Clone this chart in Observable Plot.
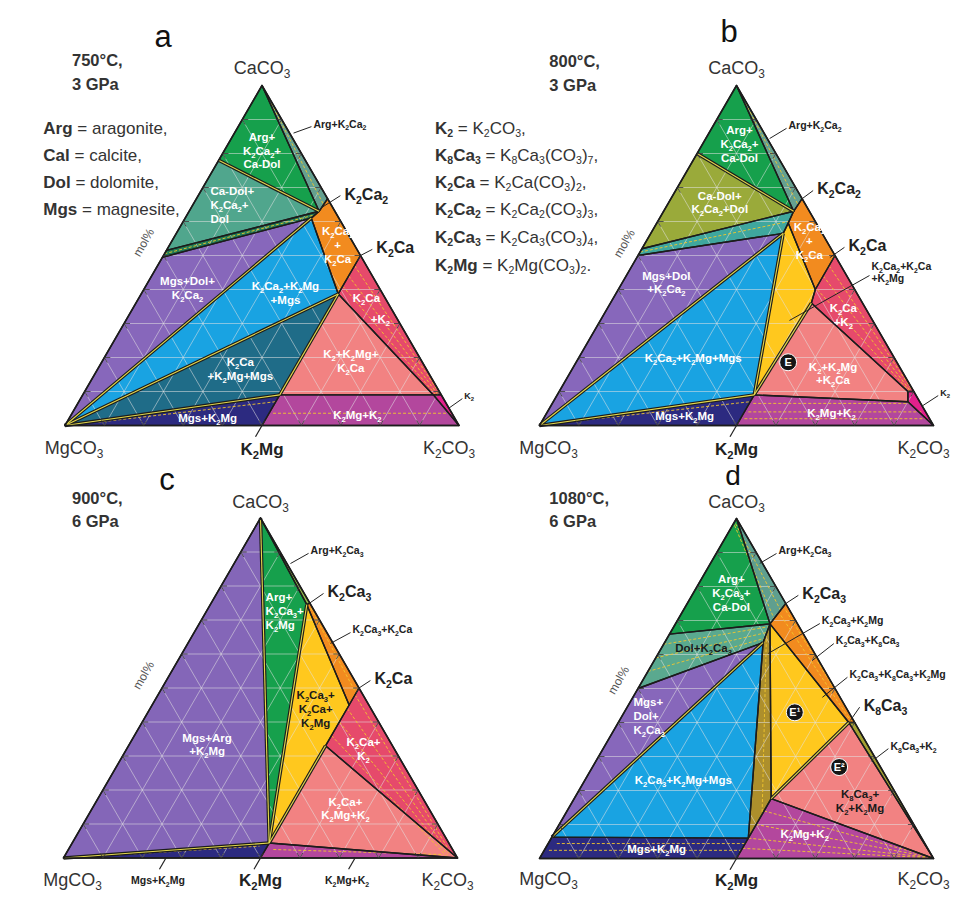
<!DOCTYPE html>
<html><head><meta charset="utf-8">
<script src="https://cdn.jsdelivr.net/npm/d3@7"></script>
<script src="https://cdn.jsdelivr.net/npm/@observablehq/plot@0.6"></script>
<style>
body{margin:0;background:#fff;font-family:"Liberation Sans",Arial,Helvetica,sans-serif;}
#fig{position:relative;width:953px;height:899px;overflow:hidden;background:#fff}
.t{position:absolute;white-space:nowrap;line-height:1;color:#333}
.t sub{font-size:62%;vertical-align:baseline;position:relative;top:0.28em}
</style></head><body><div id="fig"></div><script>
// ---------- DATA (compositions in mol%: [name, K2CO3, CaCO3]; MgCO3 = remainder) ----------
const gridSteps = [10,20,30,40,50,60,70,80,90];
const cornerNames = ["CaCO₃","MgCO₃","K₂CO₃","K₂Mg"];

// Panel a: 750 °C, 3 GPa
const aVertices = [["Cc",0,100],["L",0,0],["R",100,0],["M",50,0],["CaDol",0,78],["DolT",0,51.5],["Dol",0,49.5],
  ["J",33,63],["K2Ca2",33.3,66.7],["J2",32,61],["K2Ca",50,50],["Kc",50,38.7],["Q",50,9],["K2i",89,9],["K2e",91,9]];
const aRegions = [["Arg+K₂Ca₂+Ca-Dol","Cc CaDol J"],["Arg+K₂Ca₂","Cc J K2Ca2"],["Ca-Dol+K₂Ca₂+Dol","CaDol DolT J"],
  ["Dol+K₂Ca₂","DolT J J2 Dol"],["Mgs+Dol+K₂Ca₂","L Dol J2"],["K₂Ca₂+K₂Mg+Mgs","L J2 Kc"],["K₂Ca+K₂Mg+Mgs","L Kc Q"],
  ["Mgs+K₂Mg","L Q M"],["K₂Ca₂+K₂Ca","J K2Ca2 K2Ca Kc J2"],["K₂Ca+K₂","K2Ca K2e K2i Kc"],["K₂+K₂Mg+K₂Ca","Kc K2i Q"],
  ["K₂Mg+K₂","Q K2i R M"],["K₂","K2i K2e R"]];
const aYellow = ["CaDol J","L J2","L Kc","Kc Q","L Q"];
const aTies = [[0,100,33.1,65],[0,50.5,32.5,62],[50,47,90.5,9.3],[50,44,90,9.2],[50,41,89.5,9.1],[51,3.6,96,3.6],[8,1,50,7]];

// Panel b: 800 °C, 3 GPa
const bVertices = [["Cc",0,100],["L",0,0],["R",100,0],["M",50,0],["CaDol",0,80],["DolT",0,52],["Dol",0,50],
  ["J",33,63],["K2Ca2",33.3,66.7],["Jy",33.4,59.5],["J2",33.6,56.5],["K2Ca",50,50],["Kc",50,40],["S",51,36],
  ["Q",50,9],["K2i",88.5,10],["K2e",90,10],["K2j",90,7]];
const bRegions = [["Arg+K₂Ca₂+Ca-Dol","Cc CaDol J"],["Arg+K₂Ca₂","Cc J K2Ca2"],["Ca-Dol+K₂Ca₂+Dol","CaDol DolT J"],
  ["Dol+K₂Ca₂","DolT J J2 Dol"],["Mgs+Dol+K₂Ca₂","L Dol J2"],["K₂Ca₂+K₂Mg+Mgs","L J2 Q"],["Mgs+K₂Mg","L Q M"],
  ["K₂Ca₂+K₂Ca","J K2Ca2 K2Ca Kc Jy"],["K₂Ca₂+K₂Ca+K₂Mg","Jy Kc S Q J2"],["K₂Ca+K₂","K2Ca K2e K2i S Kc"],
  ["K₂+K₂Mg+K₂Ca","S K2i K2j Q"],["K₂Mg+K₂","Q K2j R M"],["K₂","K2i K2e R K2j"]];
const bYellow = ["CaDol J","L J2","J2 Q","L Q","S Q"];
const bTies = [[0,100,33.1,65],[0,51,33.3,60],[50,47,89.5,10.3],[50,44,89,10.2],[50.5,40,88.8,10.1],
  [51,6.5,91,6.5],[51,4,95,4],[51,2,97,2],[10,1.5,50,7]];

// Panel c: 900 °C, 6 GPa
const cVertices = [["Cc",0,100],["L",0,0],["R",100,0],["M",50,0],["K2Ca3",25,75],["K3i",24.5,74.5],
  ["K2Ca",50,50],["Ka",50,45],["Kc",50,33],["Q",50,4.4]];
const cRegions = [["Mgs+Arg+K₂Mg","Cc L Q"],["Mgs+K₂Mg","L M Q"],["Arg+K₂Ca₃+K₂Mg","Cc K3i Q"],["Arg+K₂Ca₃","Cc K2Ca3 K3i"],
  ["K₂Ca₃+K₂Ca","K2Ca3 K2Ca Ka K3i"],["K₂Ca₃+K₂Ca+K₂Mg","K3i Ka Kc Q"],["K₂Ca+K₂","K2Ca R Kc Ka"],
  ["K₂Ca+K₂Mg+K₂","Kc R Q"],["K₂Mg+K₂","Q R M"]];
const cYellow = ["Cc Q","K3i Q","Kc Q","L Q"];
const cTies = [[26,73.5,49.5,49],[50,48,97,2],[50,44,97,1.5],[50,40,97,1],[50,36,97,0.5],[52,2.5,96,1],[5,0.3,48,3.5]];

// Panel d: 1080 °C, 6 GPa
const dVertices = [["Cc",0,100],["L",0,0],["R",100,0],["M",50,0],["CaDol",0,66],["Dol",0,50],["Mgs6",0,6.3],
  ["J",24,69],["J2",25,63.5],["K2Ca3",25,75],["K8i",58.5,40],["K8e",60,40],["Q",50,17.6],["Qb",50,6]];
const dRegions = [["Arg+K₂Ca₃+Ca-Dol","Cc CaDol J"],["Arg+K₂Ca₃","Cc J K2Ca3"],["Dol+K₂Ca₃","CaDol J J2 Dol"],
  ["Mgs+Dol+K₂Ca₃","Mgs6 Dol J2"],["K₂Ca₃+K₂Mg+Mgs","Mgs6 J2 Qb"],["Mgs+K₂Mg","L M Qb Mgs6"],
  ["K₂Ca₃+K₂Mg","J Q Qb J2"],["K₂Ca₃+K₈Ca₃","K2Ca3 K8e K8i J"],["K₂Ca₃+K₈Ca₃+K₂Mg","J K8i Q"],
  ["K₈Ca₃+K₂","K8i K8e R"],["K₈Ca₃+K₂+K₂Mg","K8i R Q"],["K₂Mg+K₂","Q R M"]];
const dYellow = ["Mgs6 J2","K8i Q"];
const dTies = [[0.5,98,24.3,70.5],[0.5,98.5,24.7,73],[0,63,24.2,68.2],[0,59,24.5,66.5],[0,55,24.8,64.8],
  [24.6,66,50,13],[26,73,59,41],[25.5,71.5,58.7,40.5],[2.2,4.4,50,4.4],[1.2,2.4,50,2.4],
  [50,14,99,0.5],[50,10,99,0.4],[50,6,99,0.3],[50,3,99,0.2]];

// ---------- ANNOTATIONS (label text, anchor composition K2CO3, CaCO3) ----------
const aNotes = [["Arg+\nK₂Ca₂+\nCa-Dol",9.5,81],["Mgs+Dol+\nK₂Ca₂",10.8,40.6],["K₂Ca₂+K₂Mg\n+Mgs",36.4,39.1],
  ["K₂Ca₂\n+\nK₂Ca",42.6,53.2],["K₂Ca",57.7,37.6],["+K₂",64.3,31.5],["K₂+K₂Mg+\nK₂Ca",63,19.1],
  ["K₂Ca\n+K₂Mg+Mgs",36.1,16.8],["Mgs+K₂Mg",35,2.4],["K₂Mg+K₂",72.6,3.2]];
const aNotesLeft = [["Ca-Dol+\nK₂Ca₂+\nDol",4.4,65]];
const aDark = [];
const aLeaders = [["Arg+K₂Ca₂",15,86,18.6,87.9,"s"],["K₂Ca₂",33,64,36.1,67.6,"b"],["K₂Ca",50,50,52.1,51.8,"b"],["K₂",94.8,5,96.9,7.9,"xs"]];
const aE = [];
const aMol = [-6.9,53.8];

const bNotes = [["Arg+\nK₂Ca₂+\nCa-Dol",9.3,82.9],["Ca-Dol+\nK₂Ca₂+Dol",12.9,65.7],["K₂Ca₂\n+\nK₂Ca",41.3,54.4],
  ["K₂Ca\n+K₂",60.8,32.6],["K₂+K₂Mg\n+K₂Ca",66.8,15.4],["Mgs+Dol\n+K₂Ca₂",11.1,42.2],["K₂Ca₂+K₂Mg+Mgs",29,20],
  ["Mgs+K₂Mg",35.4,2.9],["K₂Mg+K₂",72.2,3.8]];
const bNotesLeft = [];
const bDark = [];
const bLeaders = [["Arg+K₂Ca₂",16.2,84.4,19,87.4,"s"],["K₂Ca₂",33.3,66.7,34.9,69.1,"b"],["K₂Ca",49,49.4,51.2,52.4,"b"],
  ["K₂Ca₂+K₂Ca\n+K₂Mg",48,30.9,61.7,44.1,"s"],["K₂",94.4,5.9,96.8,8.8,"xs"]];
const bE = [["E",53.8,18.6]];
const bMol = [-5.2,53.5];

const cNotes = [["Mgs+Arg\n+K₂Mg",19.7,33.5],["K₂Ca+\nK₂",60.1,32.1],["K₂Ca+\nK₂Mg+K₂",64.2,14.7]];
const cNotesLeft = [["Arg+\nK₂Ca₃+\nK₂Mg",14.9,72.8]];
const cDark = [["K₂Ca₃+\nK₂Ca+\nK₂Mg",42,44]];
const cLeaders = [["Arg+K₂Ca₃",14.3,86.6,17.4,89.6,"s"],["K₂Ca₃",25,75,27.1,77.8,"b"],
  ["K₂Ca₃+K₂Ca",36.2,63.1,39.7,66.3,"s"],["K₂Ca",50,50,51.8,52.2,"b"]];
const cE = [];
const cMol = [-6.5,53.7];
const cBase = [["Mgs+K₂Mg",26],["K₂Mg+K₂",74]];

const dNotes = [["Arg+\nK₂Ca₃+\nCa-Dol",9.6,78.2],["K₂Ca₃+K₂Mg+Mgs",24.9,23.2],["Mgs+K₂Mg",28.3,2.9],["K₂Mg+K₂",63.6,7.4]];
const dNotesLeft = [["Mgs+\nDol+\nK₂Ca₃",2.8,42.1]];
const dDark = [["Dol+K₂Ca₃",10.6,62.1],["K₈Ca₃+\nK₂+K₂Mg",72.8,17.1]];
const dLeaders = [["Arg+K₂Ca₃",12.5,86.8,15.3,89.7,"s"],["K₂Ca₃",25,75,27,77.4,"b"],["K₂Ca₃+K₂Mg",27.9,60.3,36.6,69.1,"s"],
  ["K₂Ca₃+K₈Ca₃",40.1,58.2,43.1,63.2,"s"],["K₂Ca₃+K₈Ca₃+K₂Mg",48.1,47.4,51.5,53.3,"s"],["K₈Ca₃",58.6,40.6,59,44.5,"b"],
  ["K₈Ca₃+K₂",70.5,29.3,72.4,32.3,"s"]];
const dE = [["E¹",43.3,43],["E²",62.6,26.9]];
const dMol = [-6.1,52.4];

const abbrevs = [["Arg","aragonite,"],["Cal","calcite,"],["Dol","dolomite,"],["Mgs","magnesite,"]];
const formulas = [["K_2","K_2CO_3,"],["K_8Ca_3","K_8Ca_3(CO_3)_7,"],["K_2Ca","K_2Ca(CO_3)_2,"],
  ["K_2Ca_2","K_2Ca_2(CO_3)_3,"],["K_2Ca_3","K_2Ca_3(CO_3)_4,"],["K_2Mg","K_2Mg(CO_3)_2."]];
const conditions = [["a","750°C,","3 GPa"],["b","800°C,","3 GPa"],["c","900°C,","6 GPa"],["d","1080°C,","6 GPa"]];

// ---------- STYLES ----------
const aFills = {"Arg+K₂Ca₂+Ca-Dol":"#16a04c","Arg+K₂Ca₂":"#64a090","Ca-Dol+K₂Ca₂+Dol":"#50a68d","Dol+K₂Ca₂":"#217a56",
  "Mgs+Dol+K₂Ca₂":"#8767bb","K₂Ca₂+K₂Mg+Mgs":"#19a3e2","K₂Ca+K₂Mg+Mgs":"#1f6c88","Mgs+K₂Mg":"#2c2a80",
  "K₂Ca₂+K₂Ca":"#f28b1f","K₂Ca+K₂":"#e64a6b","K₂+K₂Mg+K₂Ca":"#f28282","K₂Mg+K₂":"#b3479d","K₂":"#e2208c"};
const bFills = {...aFills,"Ca-Dol+K₂Ca₂+Dol":"#9aaa3a","Dol+K₂Ca₂":"#3fa79e","K₂Ca₂+K₂Ca+K₂Mg":"#ffc81e"};
const cFills = {"Mgs+Arg+K₂Mg":"#8466b8","Mgs+K₂Mg":"#2c2a80","Arg+K₂Ca₃+K₂Mg":"#16a04c","Arg+K₂Ca₃":"#93b84a",
  "K₂Ca₃+K₂Ca":"#f28b1f","K₂Ca₃+K₂Ca+K₂Mg":"#ffc81e","K₂Ca+K₂":"#e64a6b","K₂Ca+K₂Mg+K₂":"#f28282","K₂Mg+K₂":"#b3479d"};
const dFills = {"Arg+K₂Ca₃+Ca-Dol":"#16a04c","Arg+K₂Ca₃":"#5f9f8f","Dol+K₂Ca₃":"#5aa98f","Mgs+Dol+K₂Ca₃":"#8767bb",
  "K₂Ca₃+K₂Mg+Mgs":"#19a3e2","Mgs+K₂Mg":"#2c2a80","K₂Ca₃+K₂Mg":"#ad8f2c","K₂Ca₃+K₈Ca₃":"#f28b1f",
  "K₂Ca₃+K₈Ca₃+K₂Mg":"#ffc81e","K₈Ca₃+K₂":"#a3a032","K₈Ca₃+K₂+K₂Mg":"#f28282","K₂Mg+K₂":"#b3479d"};

const FONT = '"Liberation Sans", Arial, Helvetica, sans-serif';
const W = 394, H = 340;
const panels = [
  {vertices:aVertices, regions:aRegions, fills:aFills, yellow:aYellow, ties:aTies, notes:aNotes, left:aNotesLeft, dark:aDark, leaders:aLeaders, e:aE, mol:aMol, base:[],
   box:{left:0, top:0, width:476, height:449, ml:64.5, mt:85}, dyTop:-17, dyBot:23},
  {vertices:bVertices, regions:bRegions, fills:bFills, yellow:bYellow, ties:bTies, notes:bNotes, left:bNotesLeft, dark:bDark, leaders:bLeaders, e:bE, mol:bMol, base:[],
   box:{left:476, top:0, width:477, height:449, ml:63, mt:85}, dyTop:-17, dyBot:23},
  {vertices:cVertices, regions:cRegions, fills:cFills, yellow:cYellow, ties:cTies, notes:cNotes, left:cNotesLeft, dark:cDark, leaders:cLeaders, e:cE, mol:cMol, base:cBase,
   box:{left:0, top:449, width:476, height:450, ml:63, mt:68.5}, dyTop:-16, dyBot:22},
  {vertices:dVertices, regions:dRegions, fills:dFills, yellow:dYellow, ties:dTies, notes:dNotes, left:dNotesLeft, dark:dDark, leaders:dLeaders, e:dE, mol:dMol, base:[],
   box:{left:476, top:449, width:477, height:450, ml:63, mt:69}, dyTop:-16, dyBot:21}
];

const fig = document.getElementById("fig");
const seg = (k1,c1,k2,c2) => ({x1:k1+c1/2, y1:c1, x2:k2+c2/2, y2:c2});
const pos = (t,k,c) => ({text:t, x:k+c/2, y:c});

// turn Unicode subscript digits into real SVG subscripts after rendering
const SUBS = "₀₁₂₃₄₅₆₇₈₉";
function fixSubs(svg){
  svg.querySelectorAll("text").forEach(t => {
    const fs = parseFloat(getComputedStyle(t).fontSize) || 11;
    const nodes = t.querySelector("tspan") ? [...t.querySelectorAll("tspan")] : [t];
    for (const node of nodes) {
      const s = node.textContent;
      if (![...s].some(ch => SUBS.includes(ch))) continue;
      node.textContent = "";
      for (const run of s.match(/[₀-₉]+|[^₀-₉]+/g)) {
        const sp = document.createElementNS("http://www.w3.org/2000/svg", "tspan");
        if (SUBS.includes(run[0])) {
          sp.textContent = [...run].map(ch => SUBS.indexOf(ch)).join("");
          sp.setAttribute("font-size", (fs * 0.66).toFixed(2));
          sp.setAttribute("baseline-shift", (-fs * 0.24).toFixed(2));
        } else sp.textContent = run;
        node.appendChild(sp);
      }
    }
  });
}

function buildPanel(P){
  const V = new Map(P.vertices.map(([n,k,c]) => [n,[k,c]]));
  const pt = n => { const [k,c] = V.get(n); return {x:k + c/2, y:c}; };
  const segN = s => { const [a,b] = s.split(" "); const A = pt(a), B = pt(b); return {x1:A.x,y1:A.y,x2:B.x,y2:B.y}; };
  const polys = P.regions.map(([name, ids]) => ({name, pts: ids.split(" ").map(pt)}));
  const grid = [], ticks = [];
  for (const g of gridSteps) {
    grid.push(seg(0,g,100-g,g), seg(g,0,g,100-g), seg(100-g,0,0,100-g));
    ticks.push(seg(0,g,1.5,g), seg(0,g,1.5,g-1.5), seg(100-g,g,98.5-g,g), seg(100-g,g,100-g,g-1.5), seg(g,0,g,1.5), seg(g,0,g-1.5,1.5));
  }
  const yellow = P.yellow.map(segN);
  const ties = P.ties.map(t => seg(...t));
  const frame = ["L","R","Cc"].map(pt);
  const marks = [];
  for (const p of polys) marks.push(Plot.line(p.pts, {x:"x", y:"y", curve:"linear-closed", fill:P.fills[p.name], stroke:"none"}));
  marks.push(Plot.link(grid, {x1:"x1",y1:"y1",x2:"x2",y2:"y2", stroke:"#e4e4e4", strokeOpacity:0.6, strokeWidth:0.9}));
  marks.push(Plot.link(ties, {x1:"x1",y1:"y1",x2:"x2",y2:"y2", stroke:"#f2c62c", strokeWidth:0.9, strokeDasharray:"3,2"}));
  for (const p of polys) marks.push(Plot.line(p.pts, {x:"x", y:"y", curve:"linear-closed", fill:"none", stroke:"#1c1c1c", strokeWidth:1.4}));
  marks.push(Plot.link(yellow, {x1:"x1",y1:"y1",x2:"x2",y2:"y2", stroke:"#1c1c1c", strokeWidth:3.4}));
  marks.push(Plot.link(yellow, {x1:"x1",y1:"y1",x2:"x2",y2:"y2", stroke:"#e4d84c", strokeWidth:1.1}));
  marks.push(Plot.line(frame, {x:"x", y:"y", curve:"linear-closed", fill:"none", stroke:"#1c1c1c", strokeWidth:1.6}));
  marks.push(Plot.link(ticks, {x1:"x1",y1:"y1",x2:"x2",y2:"y2", stroke:"#333", strokeWidth:0.8}));
  const baseTicks = [["K₂Mg",50], ...P.base];
  marks.push(Plot.link(baseTicks.map(([t,k]) => seg(k,0,k,-3.3)), {x1:"x1",y1:"y1",x2:"x2",y2:"y2", stroke:"#222", strokeWidth:1.2}));
  marks.push(Plot.text([pos(cornerNames[0],0,100)], {x:"x", y:"y", text:"text", dy:P.dyTop, fontSize:18, fill:"#333", fontFamily:FONT}));
  marks.push(Plot.text([pos(cornerNames[1],0,0)], {x:"x", y:"y", text:"text", dx:9, dy:P.dyBot, fontSize:18, fill:"#333", fontFamily:FONT}));
  marks.push(Plot.text([pos(cornerNames[2],100,0)], {x:"x", y:"y", text:"text", dx:-10, dy:P.dyBot, fontSize:18, fill:"#333", fontFamily:FONT}));
  marks.push(Plot.text([pos(cornerNames[3],50,0)], {x:"x", y:"y", text:"text", dy:P.dyBot+1, fontSize:17, fontWeight:"bold", fill:"#222", fontFamily:FONT}));
  if (P.base.length) marks.push(Plot.text(P.base.map(([t,k]) => pos(t,k,0)), {x:"x", y:"y", text:"text", dx:-8, dy:P.dyBot+1, fontSize:10.5, fontWeight:"bold", fill:"#222", fontFamily:FONT}));
  const lab = {x:"x", y:"y", text:"text", fontSize:11.5, fontWeight:"bold", lineHeight:1.2, fontFamily:FONT};
  marks.push(Plot.text(P.notes.map(n => pos(...n)), {...lab, fill:"white"}));
  marks.push(Plot.text(P.left.map(n => pos(...n)), {...lab, fill:"white", textAnchor:"start"}));
  marks.push(Plot.text(P.dark.map(n => pos(...n)), {...lab, fill:"#1a1a1a"}));
  marks.push(Plot.link(P.leaders.map(l => seg(l[1],l[2],l[3],l[4])), {x1:"x1",y1:"y1",x2:"x2",y2:"y2", stroke:"#222", strokeWidth:1}));
  const sizes = {s:10.5, b:16, xs:9};
  for (const sz of ["s","b","xs"]) {
    const rows = P.leaders.filter(l => l[5] === sz).map(l => pos(l[0], l[3], l[4]));
    marks.push(Plot.text(rows, {x:"x", y:"y", text:"text", textAnchor:"start", dx: sz === "b" ? 4 : 2, dy: sz === "b" ? -2 : -3,
      fontSize:sizes[sz], fontWeight:"bold", lineHeight:1.15, fill:"#222", fontFamily:FONT}));
  }
  const es = P.e.map(e => pos(...e));
  marks.push(Plot.dot(es, {x:"x", y:"y", r:8.5, fill:"#151515", stroke:"white", strokeWidth:1}));
  marks.push(Plot.text(es, {x:"x", y:"y", text:"text", fill:"white", fontSize:11, fontWeight:"bold", fontFamily:FONT}));
  marks.push(Plot.text([pos("mol%", ...P.mol)], {x:"x", y:"y", text:"text", rotate:-60, fontSize:12, fill:"#555", fontFamily:FONT}));

  const b = P.box;
  const svg = Plot.plot({
    width:b.width, height:b.height,
    marginLeft:b.ml, marginRight:b.width - b.ml - W, marginTop:b.mt, marginBottom:b.height - b.mt - H,
    x:{domain:[0,100]}, y:{domain:[0,100]}, axis:null,
    style:{fontFamily:FONT, background:"transparent", overflow:"visible"},
    marks
  });
  svg.style.position = "absolute";
  svg.style.left = b.left + "px";
  svg.style.top = b.top + "px";
  fig.appendChild(svg);
  fixSubs(svg);
}
panels.forEach(buildPanel);

// ---------- HTML annotations ----------
const sub = s => s.replace(/_(\d+)/g, "<sub>$1</sub>");
function addText(html, x, baseline, size, o = {}) {
  const d = document.createElement("div");
  d.className = "t";
  d.innerHTML = html;
  d.style.fontSize = size + "px";
  d.style.left = x + "px";
  d.style.top = (baseline - 0.8465 * size) + "px";
  if (o.bold) d.style.fontWeight = "bold";
  if (o.center) d.style.transform = "translateX(-50%)";
  if (o.color) d.style.color = o.color;
  fig.appendChild(d);
}
const letterPos = [[163,47],[729,42],[167,490],[733,486]];
const letterSize = [31,31,31,28];
const condPos = [[72,66,90],[549.3,67,91],[72,504,527],[549.3,504,527]];
conditions.forEach(([letter, t1, t2], i) => {
  addText(letter, letterPos[i][0], letterPos[i][1], letterSize[i], {center:true, color:"#111"});
  addText(t1, condPos[i][0], condPos[i][1], 16.5, {bold:true});
  addText(t2, condPos[i][0], condPos[i][2], 16.5, {bold:true});
});
const abBase = [134.5,161.5,188.5,215.5];
abbrevs.forEach(([ab, name], i) => addText(`<b>${ab}</b> = ${name}`, 43.3, abBase[i], 17));
const fBase = [134.5,161.5,188.5,215.5,243.5,271];
formulas.forEach(([f, full], i) => addText(`<b>${sub(f)}</b> = ${sub(full)}`, 435, fBase[i], 17));
</script></body></html>
